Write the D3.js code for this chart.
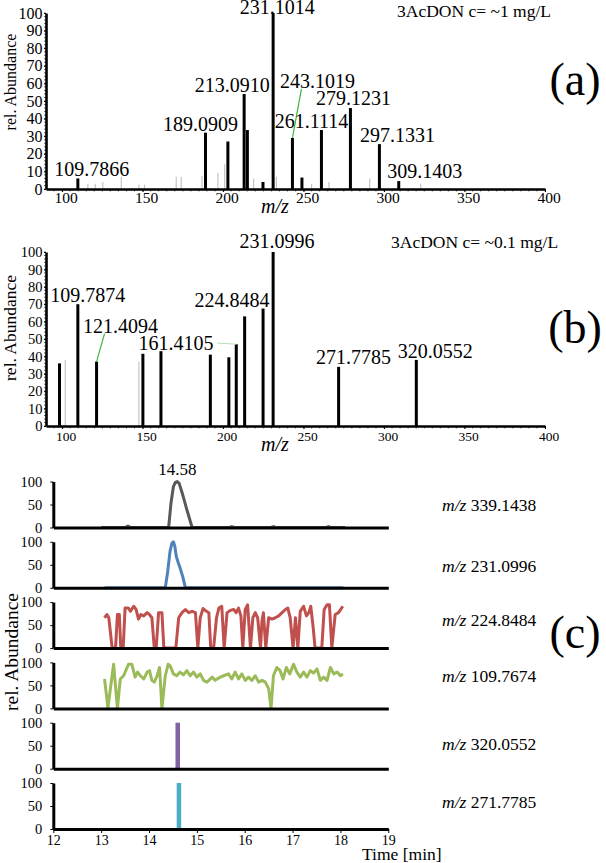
<!DOCTYPE html>
<html>
<head>
<meta charset="utf-8">
<script src="https://cdn.jsdelivr.net/npm/d3@7"></script>
<style>
  body { margin: 0; background: #fff; }
  svg, svg text { font-family: "Liberation Serif", "Times New Roman", "DejaVu Serif", serif; }
</style>
</head>
<body>
<script>
// ---- data ----
const mzDomain = [90, 400];
const mzTicks = [100, 150, 200, 250, 300, 350, 400];
const abundTicks = [0, 10, 20, 30, 40, 50, 60, 70, 80, 90, 100];

// (a) 3AcDON c= ~1 mg/L
const specA_mz    = [109.7866, 189.0909, 203.0, 213.0910, 215.1, 224.8, 231.1014, 243.1019, 249.0, 261.1114, 279.1231, 297.1331, 309.1403];
const specA_abund = [6, 32, 27, 54, 33.5, 4, 100, 29, 6.5, 33.5, 46, 25.5, 4.5];
const specA_label = ["109.7866", "189.0909", null, "213.0910", null, null, "231.1014", "243.1019", null, "261.1114", "279.1231", "297.1331", "309.1403"];
const specA_minor_mz    = [116.0, 120.6, 125.3, 136.8, 147.7, 151.2, 170.9, 174.0, 186.9, 196.8, 201.0, 219.0, 233.1, 255.0, 265.8, 291.1, 322.8];
const specA_minor_abund = [3, 3, 4, 7, 2.5, 2.5, 7, 7, 7.5, 9, 14, 6, 7, 3, 4, 6, 3];

// (b) 3AcDON c= ~0.1 mg/L
const specB_mz    = [98.4, 109.7874, 121.4094, 150.2, 161.4105, 192.1, 203.6, 208.2, 213.4, 224.8484, 231.0996, 271.7785, 320.0552];
const specB_abund = [36, 70, 37, 41.5, 43, 41, 39.5, 47, 63, 67.5, 100, 34, 38];
const specB_label = [null, "109.7874", "121.4094", null, "161.4105", null, null, null, null, "224.8484", "231.0996", "271.7785", "320.0552"];
const specB_minor_mz    = [102.0, 147.7];
const specB_minor_abund = [38, 37];

// (c) extracted ion chromatograms
const timeTicks = [12, 13, 14, 15, 16, 17, 18, 19];
const eicTicks = [0, 50, 100];
const eicMz = ["339.1438", "231.0996", "224.8484", "109.7674", "320.0552", "271.7785"];
const apexLabel = "14.58";

const eic339_t = [13.0, 13.5, 13.56, 13.62, 14.41, 14.46, 14.51, 14.55, 14.59, 14.63, 14.69, 14.74, 14.79, 14.85, 14.90, 15.68, 15.73, 15.78, 16.55, 16.6, 16.65, 17.7, 17.75, 17.8, 18.1];
const eic339_i = [0, 0, 3, 0, 0, 54, 89, 98, 100, 96, 76, 58, 39, 18, 0, 0, 2, 0, 0, 2, 0, 0, 2, 0, 0];

const eic231_t = [13.07, 14.34, 14.39, 14.44, 14.48, 14.51, 14.54, 14.57, 14.61, 14.65, 14.71, 14.76, 18.06];
const eic231_i = [0, 0, 35, 80, 97, 100, 90, 68, 55, 43, 22, 0, 0];

const eic224_t = [13.07, 13.12, 13.16, 13.23, 13.30, 13.34, 13.38, 13.41, 13.46, 13.50, 13.57, 13.61, 13.68, 13.73, 13.78, 13.83, 13.89, 13.96, 14.01, 14.06,
  14.11, 14.15, 14.20, 14.27, 14.31, 14.56, 14.62, 14.69, 14.76, 14.83, 14.90, 14.97, 15.02, 15.07, 15.13, 15.20, 15.25, 15.29, 15.35, 15.41,
  15.46, 15.52, 15.57, 15.63, 15.70, 15.77, 15.82, 15.87, 15.92, 15.96, 16.01, 16.06, 16.12, 16.17, 16.22, 16.27, 16.33, 16.36, 16.39, 16.44,
  16.50, 16.57, 16.64, 16.71, 16.78, 16.85, 16.90, 16.95, 17.01, 17.06, 17.11, 17.16, 17.23, 17.29, 17.34, 17.38, 17.43, 17.47, 17.61, 17.66,
  17.72, 17.77, 17.82, 17.89, 17.96, 18.05];
const eic224_i = [66, 73, 66, 0, 0, 73, 73, 0, 0, 87, 87, 80, 91, 84, 63, 73, 70, 77, 73, 66,
  0, 0, 77, 77, 0, 0, 66, 77, 84, 77, 80, 77, 0, 66, 86, 80, 77, 0, 0, 66,
  87, 91, 0, 77, 82, 84, 77, 87, 70, 0, 84, 94, 0, 66, 77, 66, 0, 59, 77, 0,
  66, 63, 66, 70, 77, 84, 87, 66, 0, 66, 0, 80, 91, 70, 77, 91, 45, 0, 0, 84,
  94, 94, 0, 73, 77, 91];

const eic109_t = [13.07, 13.12, 13.14, 13.26, 13.34, 13.40, 13.47, 13.57, 13.64, 13.71, 13.76, 13.82, 13.89, 13.96, 14.01, 14.06, 14.11, 14.17, 14.22, 14.27,
  14.34, 14.40, 14.44, 14.51, 14.58, 14.65, 14.72, 14.79, 14.86, 14.93, 15.00, 15.07, 15.14, 15.21, 15.32, 15.38, 15.49, 15.56, 15.66, 15.73,
  15.80, 15.87, 15.94, 16.01, 16.08, 16.15, 16.22, 16.29, 16.36, 16.43, 16.50, 16.55, 16.60, 16.67, 16.74, 16.80, 16.87, 16.94, 17.02, 17.09,
  17.16, 17.23, 17.30, 17.37, 17.44, 17.51, 17.58, 17.65, 17.72, 17.79, 17.86, 17.93, 18.00, 18.05];
const eic109_i = [64, 21, 0, 96, 0, 64, 71, 96, 96, 68, 79, 71, 64, 79, 82, 61, 57, 71, 89, 0,
  71, 96, 93, 75, 71, 79, 73, 82, 71, 79, 68, 75, 61, 57, 68, 61, 68, 71, 75, 64,
  79, 64, 75, 61, 68, 61, 71, 57, 61, 57, 43, 0, 71, 89, 82, 64, 89, 75, 96, 79,
  68, 79, 68, 82, 77, 86, 61, 68, 61, 89, 75, 79, 71, 75];

const eic320_t = [14.60, 14.60];
const eic320_i = [0, 100];
const eic271_t = [14.625, 14.625];
const eic271_i = [0, 100];

// ---- layout / styles ----
const W = 606, H = 863;
const serif = "Liberation Serif, Times New Roman, DejaVu Serif, serif";
const axisW = 2.6;
const eicColors = ["#595959", "#4f81bd", "#c0504d", "#9bbb59", "#8064a2", "#4bacc6"];
const eicWidths = [3, 3, 3, 3, 4.5, 4.5];
const eicLabelY = [511, 572, 626, 682, 750, 808];

// label nudges [dx, dy] relative to bar top, and whether a leader line is drawn
const nudgeA = {
  "109.7866": [14, -2], "189.0909": [-5, -2], "213.0910": [-12, -2], "231.1014": [4, 1],
  "243.1019": [25, -50, true], "261.1114": [-10, -2], "279.1231": [3, -3], "297.1331": [18, -2], "309.1403": [26, -3]
};
const nudgeB = {
  "109.7874": [10, -2], "121.4094": [24, -29, true], "161.4105": [15, -1], "224.8484": [-31, -2],
  "231.0996": [4, -4], "271.7785": [15, -3], "320.0552": [19, -2]
};

const svg = d3.select("body").append("svg")
  .attr("width", W)
  .attr("height", H)
  .attr("viewBox", [0, 0, W, H])
  .attr("font-family", serif);

svg.append("rect").attr("width", W).attr("height", H).attr("fill", "#fff");

// one mass spectrum panel
function spectrum(opt) {
  const x = d3.scaleLinear().domain(mzDomain).range([46, 545]);
  const y = d3.scaleLinear().domain([0, 100]).range([opt.y0, opt.y100]);
  const g = svg.append("g");

  // minor (grey) peaks
  g.append("g")
    .selectAll("line")
    .data(d3.zip(opt.minorMz, opt.minorAb))
    .join("line")
    .attr("x1", d => x(d[0])).attr("x2", d => x(d[0]))
    .attr("y1", y(0)).attr("y2", d => y(d[1]))
    .attr("stroke", "#c4c4c4")
    .attr("stroke-width", 1.2);

  // main peaks
  const peaks = d3.zip(opt.mz, opt.ab, opt.labels);
  g.append("g")
    .selectAll("line")
    .data(peaks)
    .join("line")
    .attr("x1", d => x(d[0])).attr("x2", d => x(d[0]))
    .attr("y1", y(0)).attr("y2", d => y(d[1]))
    .attr("stroke", "#000")
    .attr("stroke-width", 3);

  // axes
  const yAxis = d3.axisLeft(y).tickValues(abundTicks).tickSizeInner(2).tickSizeOuter(0).tickPadding(1.5);
  const ya = g.append("g").attr("transform", "translate(46,0)").call(yAxis).attr("font-family", serif);
  ya.selectAll("text").attr("font-size", opt.yTickSize).attr("fill", "#000");
  ya.select(".domain").attr("stroke-width", axisW);

  const xAxis = d3.axisBottom(x).tickValues(mzTicks).tickSizeInner(3).tickSizeOuter(0).tickPadding(opt.xTickPad);
  const xa = g.append("g").attr("transform", `translate(0,${y(0)})`).call(xAxis).attr("font-family", serif);
  xa.selectAll("text").attr("font-size", opt.xTickSize).attr("dx", 3.5).attr("fill", "#000");
  xa.select(".domain").attr("stroke-width", axisW);

  // minor ticks on both axes
  g.append("g").selectAll("line")
    .data(d3.range(0, 101, 2))
    .join("line")
    .attr("x1", 44).attr("x2", 46)
    .attr("y1", d => y(d)).attr("y2", d => y(d))
    .attr("stroke", "#000").attr("stroke-width", 0.6);
  g.append("g").selectAll("line")
    .data(d3.range(95, 401, 5))
    .join("line")
    .attr("x1", d => x(d)).attr("x2", d => x(d))
    .attr("y1", y(0)).attr("y2", y(0) + 2.5)
    .attr("stroke", "#000").attr("stroke-width", 0.6);

  // peak labels
  const labelled = peaks.filter(d => d[2]);
  labelled.forEach(d => {
    const n = opt.nudge[d[2]];
    const cx = x(d[0]) + n[0];
    const by = y(d[1]) + n[1];
    if (n[2]) {
      g.append("line")
        .attr("x1", x(d[0])).attr("y1", y(d[1]))
        .attr("x2", cx - 16).attr("y2", by + 1)
        .attr("stroke", "#3cb83c").attr("stroke-width", 1.2);
    }
    g.append("text")
      .attr("x", cx).attr("y", by)
      .attr("text-anchor", "middle")
      .attr("font-size", 20)
      .text(d[2]);
  });

  if (opt.faint) {
    opt.faint.forEach(f => {
      g.append("line")
        .attr("x1", f[0]).attr("y1", f[1])
        .attr("x2", x(f[2])).attr("y2", y(f[3]))
        .attr("stroke", "#b9dfb9").attr("stroke-width", 1);
    });
  }

  // texts
  g.append("text")
    .attr("transform", `translate(16,${opt.yLabelY}) rotate(-90)`)
    .attr("text-anchor", "middle")
    .attr("font-size", opt.yLabelSize)
    .text("rel. Abundance");
  g.append("text")
    .attr("x", 275).attr("y", opt.mzLabelY)
    .attr("text-anchor", "middle")
    .attr("font-size", 20)
    .attr("font-style", "italic")
    .text("m/z");
  g.append("text")
    .attr("x", opt.titleX).attr("y", opt.titleY)
    .attr("font-size", 17.5)
    .text(opt.title);
  g.append("text")
    .attr("x", 575).attr("y", opt.tagY)
    .attr("text-anchor", "middle")
    .attr("font-size", 46)
    .text(opt.tag);
}

spectrum({
  mz: specA_mz, ab: specA_abund, labels: specA_label,
  minorMz: specA_minor_mz, minorAb: specA_minor_abund,
  y0: 189, y100: 13, nudge: nudgeA,
  yTickSize: 16, xTickSize: 15.5, xTickPad: 0,
  yLabelY: 82, yLabelSize: 16, mzLabelY: 213,
  title: "3AcDON c= ~1 mg/L", titleX: 397, titleY: 17,
  tag: "(a)", tagY: 95
});

spectrum({
  mz: specB_mz, ab: specB_abund, labels: specB_label,
  minorMz: specB_minor_mz, minorAb: specB_minor_abund,
  y0: 426, y100: 252, nudge: nudgeB,
  yTickSize: 14.5, xTickSize: 13.5, xTickPad: 2.5,
  yLabelY: 328, yLabelSize: 17.5, mzLabelY: 451,
  title: "3AcDON c= ~0.1 mg/L", titleX: 391, titleY: 248,
  tag: "(b)", tagY: 343,
  faint: [[217, 343, 208.2, 47]]
});

// ---- (c) chromatograms ----
const tx = d3.scaleLinear().domain([12, 19]).range([53.3, 388.3]);
const traces = [
  [eic339_t, eic339_i], [eic231_t, eic231_i], [eic224_t, eic224_i],
  [eic109_t, eic109_i], [eic320_t, eic320_i], [eic271_t, eic271_i]
];

traces.forEach((tr, i) => {
  const top = 481.5 + i * 60.3;
  const y = d3.scaleLinear().domain([0, 100]).range([top + 46, top]);
  const g = svg.append("g");

  const line = d3.line().x(d => tx(d[0])).y(d => y(d[1]));
  g.append("path")
    .datum(d3.zip(tr[0], tr[1]))
    .attr("d", line)
    .attr("fill", "none")
    .attr("stroke", eicColors[i])
    .attr("stroke-width", eicWidths[i])
    .attr("stroke-linejoin", "round");

  const ya = g.append("g").attr("transform", `translate(${tx(12)},0)`)
    .call(d3.axisLeft(y).tickValues(eicTicks).tickSizeInner(3).tickSizeOuter(0).tickPadding(8))
    .attr("font-family", serif);
  ya.selectAll("text").attr("font-size", 14.5).attr("fill", "#000");
  ya.select(".domain").attr("stroke-width", 3);

  const last = i === traces.length - 1;
  const xAxis = d3.axisBottom(tx).tickSizeOuter(0).tickFormat(d3.format("d"));
  if (last) xAxis.tickValues(timeTicks).tickSizeInner(4).tickPadding(2);
  else xAxis.tickValues([]);
  const xa = g.append("g").attr("transform", `translate(0,${y(0)})`).call(xAxis).attr("font-family", serif);
  xa.selectAll("text").attr("font-size", 14).attr("fill", "#000");
  xa.select(".domain").attr("stroke-width", 3);

  const lab = g.append("text").attr("x", 442).attr("y", eicLabelY[i]).attr("font-size", 17.5);
  lab.append("tspan").attr("font-style", "italic").text("m/z");
  lab.append("tspan").text(" " + eicMz[i]);

  if (i === 0) {
    const apex = d3.greatest(d3.zip(tr[0], tr[1]), d => d[1]);
    g.append("text")
      .attr("x", tx(apex[0])).attr("y", y(apex[1]) - 7)
      .attr("text-anchor", "middle")
      .attr("font-size", 17)
      .text(apexLabel);
  }
});

svg.append("text")
  .attr("transform", "translate(18,652) rotate(-90)")
  .attr("text-anchor", "middle")
  .attr("font-size", 19.5)
  .text("rel. Abundance");
svg.append("text")
  .attr("x", 362).attr("y", 860)
  .attr("font-size", 17.5)
  .text("Time [min]");
svg.append("text")
  .attr("x", 575).attr("y", 648)
  .attr("text-anchor", "middle")
  .attr("font-size", 46)
  .text("(c)");
</script>
</body>
</html>
